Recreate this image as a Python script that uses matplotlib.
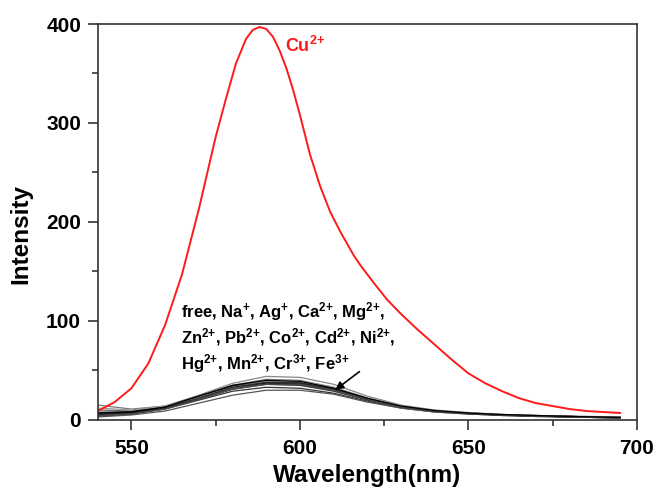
import matplotlib
matplotlib.use('Agg')
import matplotlib.pyplot as plt

plt.rcParams['font.family'] = ['Liberation Sans', 'DejaVu Sans']
plt.rcParams['font.weight'] = 'bold'
plt.rcParams['mathtext.fontset'] = 'custom'
plt.rcParams['mathtext.rm'] = 'Liberation Sans:bold'
plt.rcParams['mathtext.bf'] = 'Liberation Sans:bold'
plt.rcParams['mathtext.default'] = 'bf'

# Cu2+ emission spectrum
wl_cu = [540, 545, 550, 555, 560, 565, 570, 575, 578, 581, 584, 586, 588, 590,
         592, 594, 596, 598, 600, 603, 606, 609, 612, 616, 618, 622, 626, 630, 635,
         640, 645, 650, 655, 660, 665, 670, 675, 680, 685, 690, 695]
int_cu = [9, 18, 32, 57, 96, 147, 213, 286, 324, 360, 385, 394, 397, 395,
          387, 373, 355, 333, 308, 268, 236, 210, 190, 166, 156, 138, 121, 107, 91,
          76, 61, 47, 37, 29, 22, 17, 14, 11, 9, 8, 7]

# other ions (and free sensor)
wl = [540, 550, 560, 570, 580, 590, 600, 610, 620, 630, 640, 650, 660, 670, 680, 695]
free = [6, 8, 13, 23, 33, 38, 37, 31, 21, 13, 9, 6.5, 5, 4, 3.5, 2.5]
na = [15, 11, 14, 24, 35, 41, 40, 33, 22, 14, 9.5, 7, 5.5, 4.5, 3.5, 2.5]
ag = [4, 6, 11, 20, 29, 33, 32, 27, 19, 12, 8, 6, 4.5, 3.5, 3, 2]
ca = [8, 9, 14, 25, 37, 44, 43, 36, 24, 15, 10, 7.5, 5.5, 4.5, 4, 3]
mg = [5, 7, 12, 22, 32, 37, 36, 30, 21, 13, 9, 6.5, 5, 4, 3, 2]
zn = [7, 8, 13, 23, 34, 39, 38, 31, 21, 13, 9, 6.5, 5, 4, 3.5, 2.5]
pb = [10, 9, 13, 22, 32, 36, 35, 30, 21, 13, 9, 6.5, 5, 4, 3.5, 2.5]
co = [3, 5, 9, 17, 25, 30, 30, 26, 18, 12, 8, 6, 4.5, 3.5, 3, 2]
cd = [6.5, 8.5, 13.5, 24, 34, 38, 37, 31, 21, 13.5, 9, 6.5, 5, 4, 3.5, 2.5]
ni = [5, 7, 12, 21, 31, 36, 35, 29, 20, 13, 9, 6.5, 5, 4, 3, 2.5]
hg = [12, 10, 14, 23, 33, 39, 39, 33, 22, 14, 9.5, 7, 5.5, 4.5, 3.5, 3]
mn = [6, 7, 12, 22, 33, 38, 37, 31, 21, 13, 9, 6.5, 5, 4, 3.5, 2.5]
cr = [4, 6, 11, 21, 31, 36, 36, 30, 21, 13, 9, 6.5, 5, 4, 3, 2]
fe = [7, 8, 13, 24, 35, 40, 39, 32, 22, 14, 9.5, 7, 5.5, 4.5, 3.5, 2.5]

others = [free, na, ag, ca, mg, zn, pb, co, cd, ni, hg, mn, cr, fe]
grays = ['#222222', '#777777', '#333333', '#888888', '#111111', '#444444', '#666666',
         '#555555', '#1a1a1a', '#3a3a3a', '#999999', '#2a2a2a', '#4a4a4a', '#000000']

fig = plt.figure(figsize=(6.56, 4.90), dpi=100)
ax = fig.add_axes([0.149, 0.143, 0.822, 0.808])

for ys, c in zip(others, grays):
    ax.plot(wl, ys, color=c, linewidth=0.9)
ax.plot(wl_cu, int_cu, color='#ff1a1a', linewidth=1.4)

ax.set_xlim(540, 700)
ax.set_ylim(0, 400)
ax.set_xticks([550, 600, 650, 700])
ax.set_xticks([575, 625, 675], minor=True)
ax.set_yticks([0, 100, 200, 300, 400])
ax.set_yticks([50, 150, 250, 350], minor=True)
ax.tick_params(which='both', direction='out', top=False, right=False, width=1.2, color='#333333')
ax.tick_params(which='major', length=7, labelsize=15)
ax.tick_params(which='minor', length=4)
ax.tick_params(axis='x', pad=7)
ax.tick_params(axis='y', pad=5)
for s in ax.spines.values():
    s.set_linewidth(1.2)
    s.set_color('#333333')

ax.set_xlabel('Wavelength(nm)', fontsize=17.5, fontweight='bold', labelpad=4)
ax.set_ylabel('Intensity', fontsize=17.5, fontweight='bold')
ax.yaxis.set_label_coords(-0.121, 0.47)

ax.text(595.5, 378, r'Cu$^{2{+}}$', color='#ff1a1a', fontsize=13, fontweight='bold', va='center')
ion_lines = [r'free, Na$^{{+}}$, Ag$^{{+}}$, Ca$^{2{+}}$, Mg$^{2{+}}$,',
             r'Zn$^{2{+}}$, Pb$^{2{+}}$, Co$^{2{+}}$, Cd$^{2{+}}$, Ni$^{2{+}}$,',
             r'Hg$^{2{+}}$, Mn$^{2{+}}$, Cr$^{3{+}}$, Fe$^{3{+}}$']
for i, line in enumerate(ion_lines):
    ax.text(564.8, 110 - 26.3 * i, line, fontsize=12, fontweight='bold', va='center')

ax.annotate('', xy=(609.8, 28.6), xytext=(618.3, 50.5),
            arrowprops=dict(arrowstyle='-|>', color='black', lw=1.2, mutation_scale=12))

fig.savefig('out.png', dpi=100)
